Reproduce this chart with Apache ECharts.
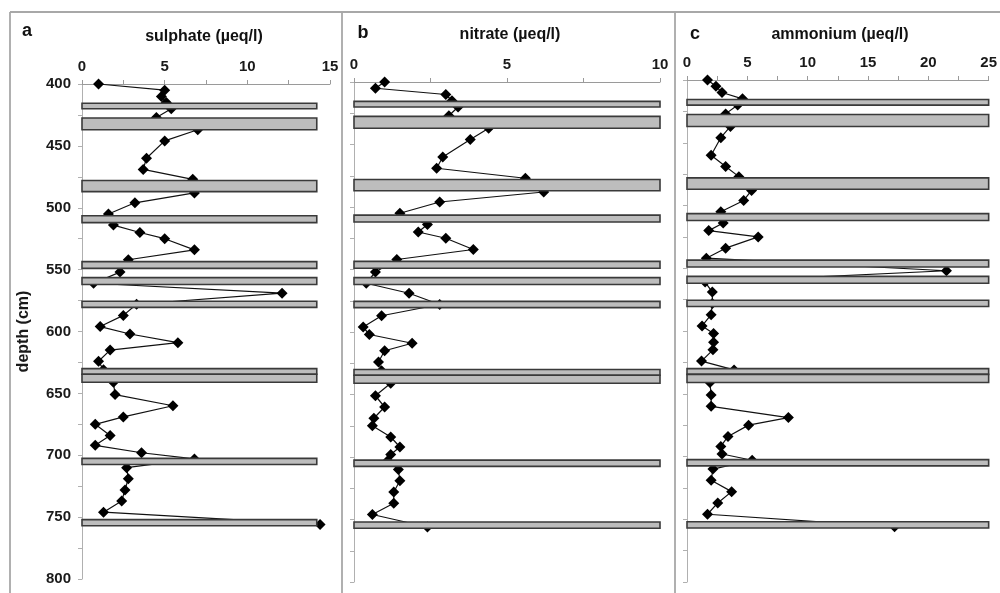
<!DOCTYPE html>
<html>
<head>
<meta charset="utf-8">
<script src="https://cdn.jsdelivr.net/npm/echarts@6/dist/echarts.min.js"></script>
<style>
html,body{margin:0;padding:0;background:#fff;}
#chart{width:1000px;height:593px;}
</style>
</head>
<body>
<div id="chart"></div>
<script>
// depth of each sample (cm)
const depth = [400,405,410,415,420,427,437,446,460,469,477,488,496,505,514,520,525,534,542,552,561,569,578,587,596,602,609,615,624,631,641,651,660,669,675,684,692,698,703,710,719,728,737,746,756];
// concentrations (µeq/l)
const sulphate = [1.0,5.0,4.8,5.1,5.4,4.5,7.0,5.0,3.9,3.7,6.7,6.8,3.2,1.6,1.9,3.5,5.0,6.8,2.8,2.3,0.7,12.1,3.3,2.5,1.1,2.9,5.8,1.7,1.0,1.3,1.9,2.0,5.5,2.5,0.8,1.7,0.8,3.6,6.8,2.7,2.8,2.6,2.4,1.3,14.4];
const nitrate = [1.0,0.7,3.0,3.2,3.4,3.1,4.4,3.8,2.9,2.7,5.6,6.2,2.8,1.5,2.4,2.1,3.0,3.9,1.4,0.7,0.4,1.8,2.8,0.9,0.3,0.5,1.9,1.0,0.8,0.9,1.2,0.7,1.0,0.65,0.6,1.2,1.5,1.2,1.1,1.45,1.5,1.3,1.3,0.6,2.4];
const ammonium = [1.7,2.4,2.9,4.6,4.2,3.2,3.6,2.8,2.0,3.2,4.3,5.35,4.7,2.8,3.0,1.8,5.9,3.2,1.6,21.5,1.5,2.1,2.1,2.0,1.25,2.2,2.2,2.15,1.2,3.9,1.9,2.0,2.0,8.4,5.1,3.4,2.8,2.9,5.4,2.15,2.0,3.7,2.55,1.7,17.2];
// grey bands: [top depth, bottom depth]
const bandTop =    [415.5,427.5,478,506.5,543.5,556.5,575.5,630,634.6,702.5,752];
const bandBottom = [420,  437,  487,512,  549,  562,  580.5,634.6,641,707.5,757];
// band length on each panel's x scale
const bandLength = [14.2, 10, 25];
// axis settings
const panelLetters = ['a','b','c'];
const panelTitles = ['sulphate (µeq/l)','nitrate (µeq/l)','ammonium (µeq/l)'];
const xMax = [15, 10, 25];
const depthMin = 400, depthMax = 800;

const seriesValues = [sulphate, nitrate, ammonium];
const grids = [
  {left:82, top:84, width:248, height:495},
  {left:354, top:82, width:306, height:500},
  {left:687, top:80, width:307, height:502}
];
const FONT = '"Liberation Sans", Arial, sans-serif';

const xAxes = grids.map((g,i)=>({
  type:'value', gridIndex:i, position:'top', min:0, max:xMax[i], interval:2.5,
  axisLine:{show:true, lineStyle:{color:'#9a9a9a', width:1}},
  axisTick:{show:true, length:4, lineStyle:{color:'#9a9a9a'}},
  splitLine:{show:false},
  axisLabel:{margin:10, fontFamily:FONT, fontWeight:'bold', fontSize:15, color:'#1a1a1a',
    formatter:v=> (Math.abs(v%5)<1e-9 ? String(v) : '')}
}));
const yAxes = grids.map((g,i)=>({
  type:'value', gridIndex:i, inverse:true, min:depthMin, max:depthMax, interval:25,
  axisLine:{show:true, lineStyle:{color:'#b0b0b0', width:1}},
  axisTick:{show:true, length:4, lineStyle:{color:'#b0b0b0'}},
  splitLine:{show:false},
  axisLabel:{show:i===0, margin:11, fontFamily:FONT, fontWeight:'bold', fontSize:15, color:'#1a1a1a',
    formatter:v=> (v%50===0 ? String(v) : '')},
  name: i===0 ? 'depth (cm)' : '',
  nameLocation:'middle', nameGap:50, nameRotate:90,
  nameTextStyle:{fontFamily:FONT, fontWeight:'bold', fontSize:16, color:'#1a1a1a'}
}));

const series = [];
seriesValues.forEach((vals,i)=>{
  series.push({
    type:'line', xAxisIndex:i, yAxisIndex:i, z:2,
    data: vals.map((v,k)=>[v, depth[k]]),
    symbol:'diamond', symbolSize:[11,11],
    itemStyle:{color:'#000'},
    lineStyle:{color:'#111', width:1.2},
    animation:false
  });
  series.push({
    type:'custom', xAxisIndex:i, yAxisIndex:i, z:5,
    data: bandTop.map((t,k)=>[t, bandBottom[k], bandLength[i]]),
    encode:{y:[0,1], x:2},
    renderItem:(params, api)=>{
      const p0 = api.coord([0, api.value(0)]);
      const p1 = api.coord([api.value(2), api.value(1)]);
      return {type:'rect', shape:{x:p0[0], y:p0[1], width:p1[0]-p0[0], height:p1[1]-p0[1]},
        style:{fill:'#bdbdbd', stroke:'#3a3a3a', lineWidth:1.6}};
    },
    animation:false
  });
});

const graphics = [
  {type:'line', shape:{x1:10,y1:12,x2:1000,y2:12}, style:{stroke:'#a8a8a8', lineWidth:1.8}},
  {type:'line', shape:{x1:10,y1:12,x2:10,y2:593}, style:{stroke:'#a8a8a8', lineWidth:1.8}},
  {type:'line', shape:{x1:342,y1:12,x2:342,y2:593}, style:{stroke:'#a8a8a8', lineWidth:1.8}},
  {type:'line', shape:{x1:675,y1:12,x2:675,y2:593}, style:{stroke:'#a8a8a8', lineWidth:1.8}}
];
const letterX = [27, 363, 695];
const letterY = [31, 33, 34];
const titleX = [204, 510, 840];
const titleY = [37, 35, 35];
panelLetters.forEach((l,i)=>{
  graphics.push({type:'text', x:letterX[i], y:letterY[i], style:{text:l, font:'bold 18px '+FONT, fill:'#111', textAlign:'center', textVerticalAlign:'middle'}});
  graphics.push({type:'text', x:titleX[i], y:titleY[i], style:{text:panelTitles[i], font:'bold 16px '+FONT, fill:'#111', textAlign:'center', textVerticalAlign:'middle'}});
});

const chart = echarts.init(document.getElementById('chart'), null, {renderer:'canvas'});
chart.setOption({
  animation:false,
  backgroundColor:'#fff',
  grid: grids,
  xAxis: xAxes,
  yAxis: yAxes,
  series: series,
  graphic: graphics
});
</script>
</body>
</html>
